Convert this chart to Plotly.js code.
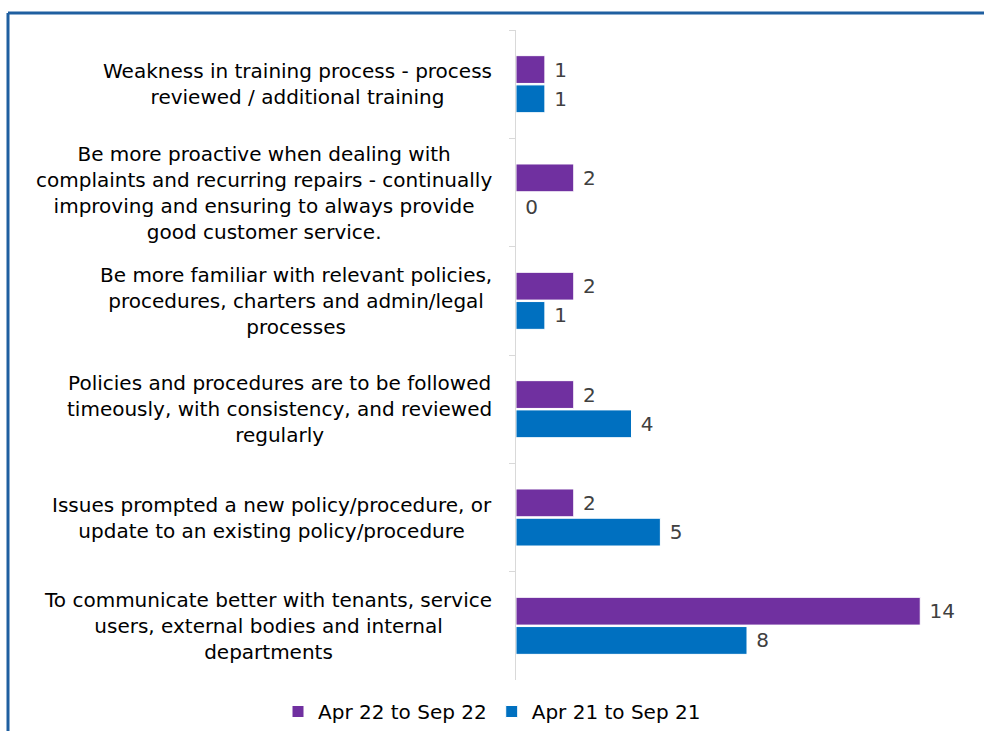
<!DOCTYPE html>
<html>
<head>
<meta charset="utf-8">
<script src="https://cdn.plot.ly/plotly-3.0.1.min.js"></script>
<style>html,body{margin:0;padding:0;background:#fff;}#chart{width:984px;height:731px;}</style>
</head>
<body>
<div id="chart"></div>
<script>
var categories = [
  "Weakness in training process - process<br>reviewed / additional training",
  "Be more proactive when dealing with<br>complaints and recurring repairs - continually<br>improving and ensuring to always provide<br>good customer service.",
  "Be more familiar with relevant policies,<br>procedures, charters and admin/legal<br>processes",
  "Policies and procedures are to be followed<br>timeously, with consistency, and reviewed<br>regularly",
  "Issues prompted a new policy/procedure, or<br>update to an existing policy/procedure",
  "To communicate better with tenants, service<br>users, external bodies and internal<br>departments"
];
var seriesNames = ["Apr 22 to Sep 22", "Apr 21 to Sep 21"];
var values2022 = [1, 2, 2, 2, 2, 14];
var values2021 = [1, 0, 1, 4, 5, 8];
var colors = ["#7030A0", "#0070C0"];

var font = "DejaVu Sans, Verdana, sans-serif";

var traces = [values2022, values2021].map(function(vals, i) {
  return {
    type: "bar",
    orientation: "h",
    name: seriesNames[i],
    y: categories,
    x: vals,
    text: vals.map(function(v) { return "\u00a0" + v; }),
    textposition: "outside",
    cliponaxis: false,
    textfont: {family: font, size: 20, color: "#404040"},
    marker: {color: colors[i], line: {color: "#ffffff", width: 1}}
  };
});

var annotations = categories.map(function(c) {
  return {
    xref: "paper", yref: "y", x: 0, y: c, xanchor: "right", xshift: -22,
    text: c, showarrow: false, align: "center",
    font: {family: font, size: 20, color: "#000000"}
  };
});

var layout = {
  width: 984, height: 731,
  margin: {l: 516, r: 6, t: 30, b: 51, pad: 0},
  paper_bgcolor: "#ffffff", plot_bgcolor: "#ffffff",
  barmode: "group", bargap: 0.46, bargroupgap: 0.05,
  showlegend: true,
  legend: {orientation: "h", x: 0.5, xref: "container", xanchor: "center", y: 0.0, yref: "container", yanchor: "bottom",
           font: {family: font, size: 20, color: "#000000"}, traceorder: "normal"},
  xaxis: {range: [0, 16], showgrid: false, zeroline: false, showticklabels: false, showline: false, ticks: ""},
  yaxis: {type: "category", autorange: "reversed", showticklabels: false, showgrid: false, zeroline: false,
          showline: true, linecolor: "#d9d9d9", linewidth: 1, ticks: "outside", tickson: "boundaries",
          ticklen: 6, tickcolor: "#d9d9d9"},
  annotations: annotations,
  shapes: [
    {type: "line", xref: "paper", yref: "paper", x0: (8 - 516) / 462, x1: 1.1, y0: (680 - 13) / 650, y1: (680 - 13) / 650,
     line: {color: "#1f5fa0", width: 3}},
    {type: "line", xref: "paper", yref: "paper", x0: (8 - 516) / 462, x1: (8 - 516) / 462, y0: (680 - 13) / 650, y1: -0.2,
     line: {color: "#1f5fa0", width: 3}}
  ]
};

Plotly.newPlot("chart", traces, layout, {displayModeBar: false, staticPlot: true});
</script>
</body>
</html>
